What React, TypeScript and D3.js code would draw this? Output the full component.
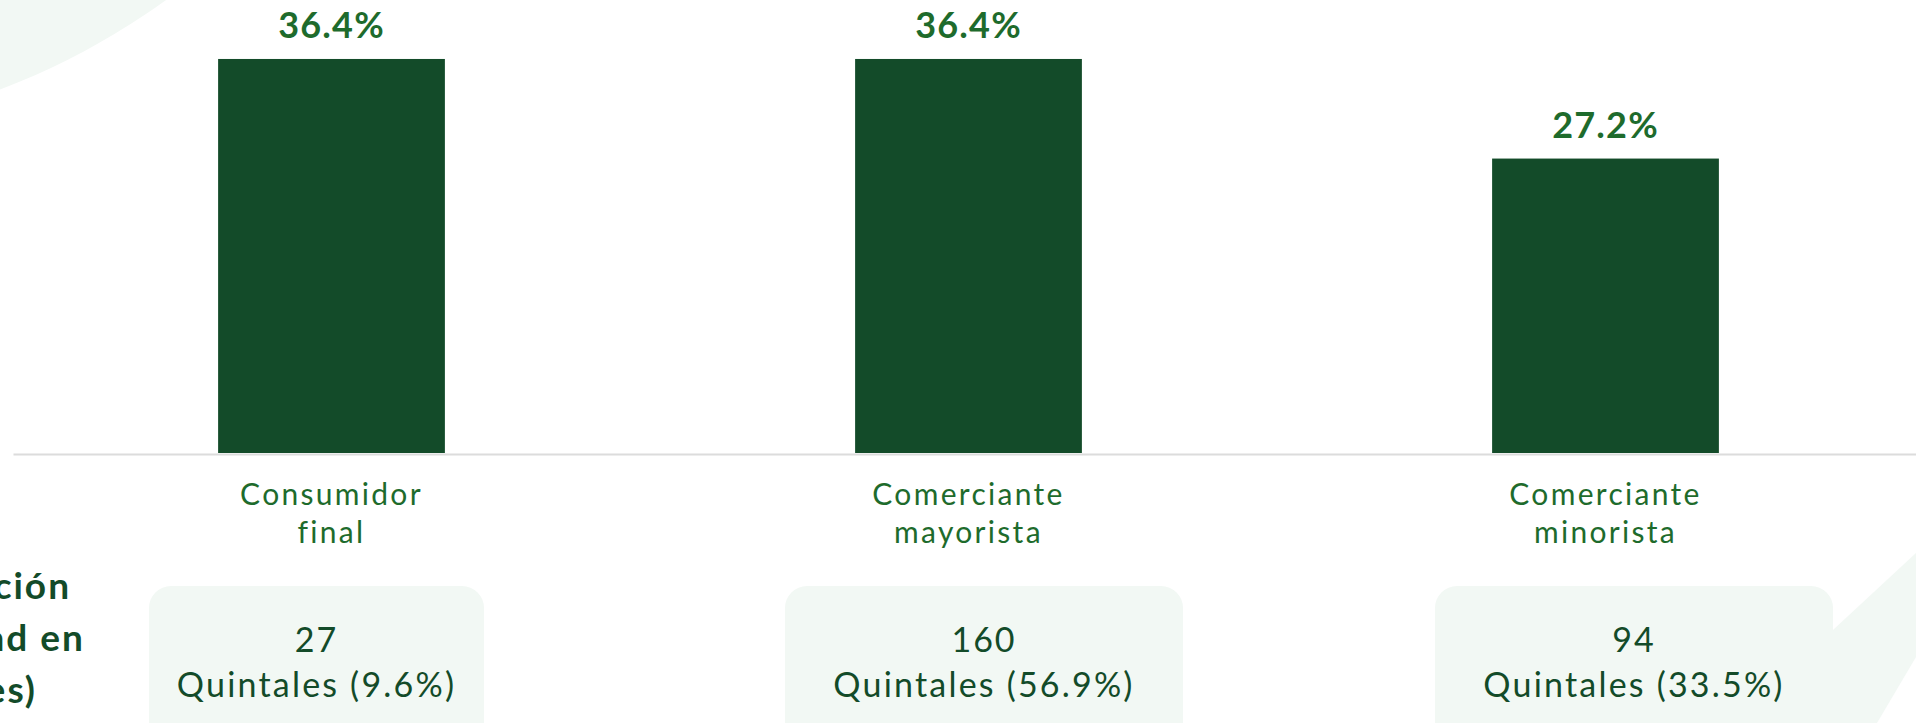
import { useEffect, useRef } from 'react'
import * as d3 from 'd3'

const categories = ['Consumidor final', 'Comerciante mayorista', 'Comerciante minorista']
const categoryLines = [
  ['Consumidor', 'final'],
  ['Comerciante', 'mayorista'],
  ['Comerciante', 'minorista'],
]
const shares = [36.4, 36.4, 27.2]
const quintales = [27, 160, 94]
const quintalesPct = [9.6, 56.9, 33.5]
const sideTitle = ['Distribución', 'de cantidad en', '(quintales)']

// card layout (html cards in the original, not tied to the bar bands)
const cards = [
  { x: 149, w: 335 },
  { x: 785, w: 398 },
  { x: 1435, w: 398 },
]
const sideTitleEnds = [71, 85, 37]

const W = 1916
const H = 723
const BAR = '#134b29'
const LABEL = '#1e6b2c'
const DARK = '#134b29'
const PALE = '#f2f8f4'
const FONT = 'Lato, "Open Sans", sans-serif'

export default function App() {
  const svgRef = useRef<SVGSVGElement | null>(null)

  useEffect(() => {
    const svg = d3.select(svgRef.current)
    svg.selectAll('*').remove()

    const x = d3.scaleBand<string>()
      .domain(categories)
      .range([13, 1924])
      .paddingInner(0.644)
      .paddingOuter(0.322)
    const y = d3.scaleLinear().domain([0, 40]).range([453, 20])

    // background decorations
    svg.append('circle')
      .attr('cx', -258).attr('cy', -588).attr('r', 725)
      .attr('fill', PALE)
    svg.append('path')
      .attr('d', 'M1833,630 L1916,553 L1916,657 L1877,723 L1833,723 Z')
      .attr('fill', PALE)

    // bars
    svg.append('g')
      .selectAll('rect')
      .data(shares)
      .join('rect')
      .attr('x', (_, i) => x(categories[i])!)
      .attr('width', x.bandwidth())
      .attr('y', (d) => y(d))
      .attr('height', (d) => y(0) - y(d))
      .attr('fill', BAR)

    // baseline axis
    const axis = svg.append('g')
      .attr('transform', `translate(0,${y(0) + 1})`)
      .call(d3.axisBottom(x).tickSize(0).tickFormat(() => ''))
    axis.select('.domain').attr('stroke', '#dcdcdc').attr('stroke-width', 2)

    // value labels
    svg.append('g')
      .selectAll('text')
      .data(shares)
      .join('text')
      .attr('x', (_, i) => x(categories[i])! + x.bandwidth() / 2)
      .attr('y', (d) => y(d) - 21)
      .attr('text-anchor', 'middle')
      .attr('font-family', FONT)
      .attr('font-weight', 700)
      .attr('font-size', 36)
      .attr('letter-spacing', 1.2)
      .attr('fill', LABEL)
      .text((d) => `${d.toFixed(1)}%`)

    // category labels
    const cat = svg.append('g')
      .selectAll('text')
      .data(categoryLines)
      .join('text')
      .attr('text-anchor', 'middle')
      .attr('font-family', FONT)
      .attr('font-size', 30)
      .attr('letter-spacing', 2.3)
      .attr('fill', LABEL)
    cat.each(function (lines, i) {
      const cx = x(categories[i])! + x.bandwidth() / 2
      d3.select(this)
        .selectAll('tspan')
        .data(lines)
        .join('tspan')
        .attr('x', cx)
        .attr('y', (_, j) => 505 + j * 38)
        .text((d) => d)
    })

    // quantity cards
    const card = svg.append('g')
      .selectAll('g')
      .data(quintales)
      .join('g')
    card.append('rect')
      .attr('x', (_, i) => cards[i].x)
      .attr('y', 586)
      .attr('width', (_, i) => cards[i].w)
      .attr('height', 170)
      .attr('rx', 22)
      .attr('fill', PALE)
    card.append('text')
      .attr('x', (_, i) => cards[i].x + cards[i].w / 2)
      .attr('y', 652)
      .attr('text-anchor', 'middle')
      .attr('font-family', FONT)
      .attr('font-size', 34)
      .attr('letter-spacing', 2)
      .attr('fill', DARK)
      .text((d) => d)
    card.append('text')
      .attr('x', (_, i) => cards[i].x + cards[i].w / 2)
      .attr('y', 697)
      .attr('text-anchor', 'middle')
      .attr('font-family', FONT)
      .attr('font-size', 34)
      .attr('letter-spacing', 2.2)
      .attr('fill', DARK)
      .text((_, i) => `Quintales (${quintalesPct[i]}%)`)

    // side title, cut off at the left edge
    svg.append('g')
      .selectAll('text')
      .data(sideTitle)
      .join('text')
      .attr('x', (_, i) => sideTitleEnds[i])
      .attr('y', (_, i) => 599 + i * 52)
      .attr('text-anchor', 'end')
      .attr('font-family', FONT)
      .attr('font-weight', 700)
      .attr('font-size', 37)
      .attr('letter-spacing', 2)
      .attr('fill', DARK)
      .text((d) => d)
  }, [])

  return (
    <svg
      ref={svgRef}
      width={W}
      height={H}
      style={{ position: 'absolute', left: 0, top: 0, background: '#fff' }}
    />
  )
}
